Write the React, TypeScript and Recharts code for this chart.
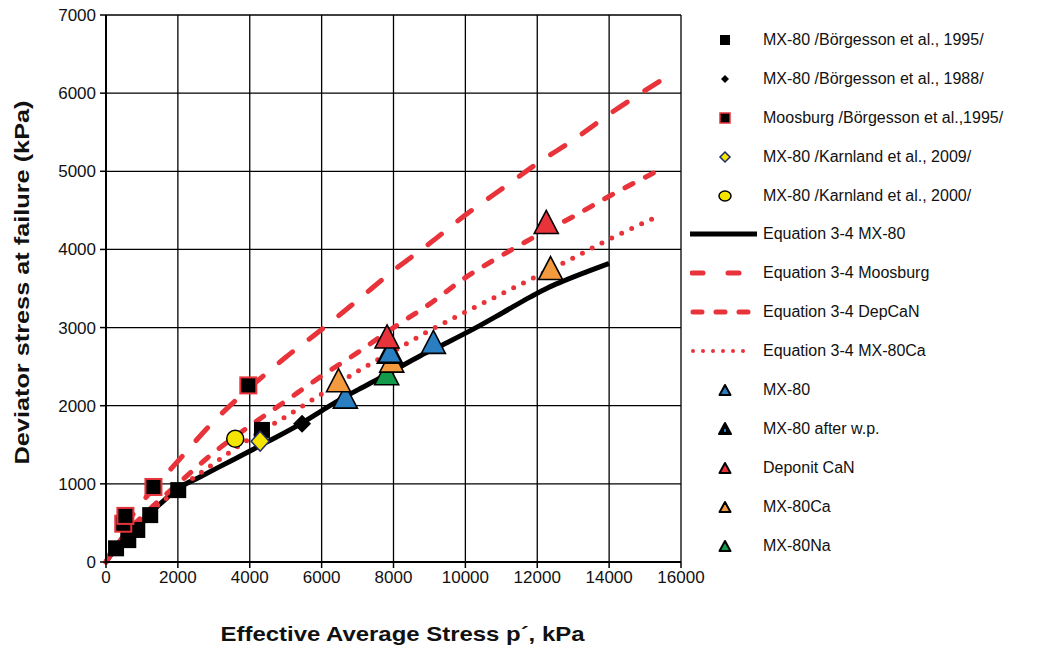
import React from 'react';
import { ComposedChart, Line, Scatter, XAxis, YAxis, CartesianGrid, Legend } from 'recharts';

// axis ticks
const xTicks = [0, 2000, 4000, 6000, 8000, 10000, 12000, 14000, 16000];
const yTicks = [0, 1000, 2000, 3000, 4000, 5000, 6000, 7000];

// Equation 3-4 curves, [p', q]
const eqMx80 = [[0, 0], [250, 170], [500, 320], [1000, 530], [1500, 740], [2000, 940], [2600, 1085], [3500, 1300], [4500, 1540], [5400, 1765], [6000, 1935], [6500, 2075], [7300, 2275], [8000, 2450], [8750, 2640], [9500, 2810], [10400, 3025], [11000, 3180], [11800, 3390], [12300, 3510], [12700, 3590], [13500, 3735], [14000, 3820]];
const eqMoosburg = [[0, 0], [500, 440], [1000, 760], [2000, 1290], [3000, 1800], [4000, 2230], [5000, 2620], [6000, 2975], [7000, 3350], [8000, 3730], [9000, 4075], [10000, 4440], [11000, 4770], [12000, 5100], [13000, 5400], [14000, 5730], [15500, 6180]];
const eqDepCaN = [[0, 0], [500, 340], [1000, 580], [2000, 1000], [3000, 1400], [4000, 1740], [5000, 2060], [6000, 2380], [7000, 2680], [8000, 3000], [9000, 3300], [10000, 3640], [11000, 3920], [12000, 4180], [13000, 4420], [14000, 4680], [15500, 5040]];
const eqMx80Ca = [[0, 0], [500, 320], [1000, 550], [2000, 930], [3000, 1260], [4000, 1580], [5000, 1860], [6000, 2150], [7000, 2440], [8000, 2700], [9000, 2960], [10000, 3200], [11000, 3430], [12000, 3660], [13000, 3890], [14000, 4130], [15300, 4410]];

// measured points
const borg1995 = [[280, 175], [620, 280], [870, 410], [1230, 600], [2010, 920], [4340, 1690]];
const borg1988 = [[5455, 1770]];
const moosburg = [[480, 490], [540, 590], [1320, 960], [3960, 2260]];
const karn2009 = [[4290, 1546]];
const karn2000 = [[3596, 1577]];
const mx80 = [[6660, 2110], [9110, 2810]];
const mx80wp = [[7900, 2690]];
const deponit = [[7820, 2880], [12250, 4345]];
const mx80Ca = [[6470, 2320], [7950, 2570], [12370, 3755]];
const mx80Na = [[7810, 2410]];

const pts = (a: number[][]) => a.map(([x, y]) => ({ x, y }));

const RED = '#e8333a';
const BLUE = '#2a7fc2';
const ORANGE = '#f39a3e';
const GREEN = '#12994a';
const YELLOW = '#f4e500';
const NAVY = '#1f2a6b';

const LONG_DASH = '17 21';
const MED_DASH = '9 14';
const DOTS = '0 11';

const square = (size: number, fill: string, stroke?: string) => (p: any) => (
  <rect x={p.cx - size / 2} y={p.cy - size / 2} width={size} height={size} fill={fill}
    stroke={stroke || 'none'} strokeWidth={stroke ? 2 : 0} />
);
const diamond = (w: number, h: number, fill: string, stroke?: string) => (p: any) => (
  <polygon points={`${p.cx},${p.cy - h / 2} ${p.cx + w / 2},${p.cy} ${p.cx},${p.cy + h / 2} ${p.cx - w / 2},${p.cy}`}
    fill={fill} stroke={stroke || 'none'} strokeWidth={stroke ? 1.5 : 0} />
);
const circle = (r: number, fill: string) => (p: any) => (
  <circle cx={p.cx} cy={p.cy} r={r} fill={fill} stroke="#000" strokeWidth={1.5} />
);
const triangle = (fill: string, sw = 1.6) => (p: any) => (
  <polygon points={`${p.cx},${p.cy - 12} ${p.cx + 12},${p.cy + 11} ${p.cx - 12},${p.cy + 11}`}
    fill={fill} stroke="#000" strokeWidth={sw} strokeLinejoin="miter" />
);

const legendRows = [
  { label: 'MX-80 /Börgesson et al., 1995/', kind: 'sq' },
  { label: 'MX-80 /Börgesson et al., 1988/', kind: 'dia' },
  { label: 'Moosburg /Börgesson et al.,1995/', kind: 'sqRed' },
  { label: 'MX-80 /Karnland et al., 2009/', kind: 'diaY' },
  { label: 'MX-80 /Karnland et al., 2000/', kind: 'circ' },
  { label: 'Equation 3-4 MX-80', kind: 'solid' },
  { label: 'Equation 3-4 Moosburg', kind: 'long' },
  { label: 'Equation 3-4 DepCaN', kind: 'med' },
  { label: 'Equation 3-4 MX-80Ca', kind: 'dot' },
  { label: 'MX-80', kind: BLUE },
  { label: 'MX-80 after w.p.', kind: 'wp' },
  { label: 'Deponit CaN', kind: RED },
  { label: 'MX-80Ca', kind: ORANGE },
  { label: 'MX-80Na', kind: GREEN },
];

const LegendIcon = ({ kind }: { kind: string }) => {
  const c = 35;
  let el: React.ReactNode;
  if (kind === 'sq') el = <rect x={c - 5} y={5} width={10} height={10} fill="#000" />;
  else if (kind === 'sqRed') el = <rect x={c - 5} y={5} width={10} height={10} fill="#000" stroke={RED} strokeWidth={1.5} />;
  else if (kind === 'dia') el = <polygon points={`${c},6 ${c + 4},10 ${c},14 ${c - 4},10`} fill="#000" />;
  else if (kind === 'diaY') el = <polygon points={`${c},5 ${c + 5},10 ${c},15 ${c - 5},10`} fill={YELLOW} stroke={NAVY} strokeWidth={1.5} />;
  else if (kind === 'circ') el = <ellipse cx={c} cy={10} rx={6} ry={5} fill={YELLOW} stroke="#000" strokeWidth={1.5} />;
  else if (kind === 'solid') el = <line x1={0} y1={10} x2={67} y2={10} stroke="#000" strokeWidth={5} />;
  else if (kind === 'long') el = <line x1={2} y1={10} x2={62} y2={10} stroke={RED} strokeWidth={5} strokeLinecap="round" strokeDasharray="11 25" />;
  else if (kind === 'med') el = <line x1={3} y1={10} x2={60} y2={10} stroke={RED} strokeWidth={5} strokeLinecap="round" strokeDasharray="9 14" />;
  else if (kind === 'dot') el = <line x1={3} y1={10} x2={62} y2={10} stroke={RED} strokeWidth={4} strokeLinecap="round" strokeDasharray="0 10" />;
  else if (kind === 'wp') el = (
    <g>
      <polygon points={`${c},4 ${c + 6},15 ${c - 6},15`} fill="#000" stroke="#000" strokeWidth={2} strokeLinejoin="round" />
      <rect x={c - 1} y={10} width={2} height={3} fill={BLUE} />
    </g>
  );
  else el = <polygon points={`${c},5 ${c + 5.5},15 ${c - 5.5},15`} fill={kind} stroke="#000" strokeWidth={2} strokeLinejoin="round" />;
  return <svg width={67} height={20} style={{ display: 'block', flex: 'none' }}>{el}</svg>;
};

const renderLegend = () => (
  <div>
    {legendRows.map((r) => (
      <div key={r.label} style={{ display: 'flex', alignItems: 'center', height: 38.9 }}>
        <LegendIcon kind={r.kind} />
        <span style={{ marginLeft: 6, fontSize: 16, color: '#111', whiteSpace: 'nowrap' }}>{r.label}</span>
      </div>
    ))}
  </div>
);

// axis titles (the source font is a wide bold face, so the text is stretched to its measured length)
const xTitle = (props: any) => {
  const vb = props.viewBox;
  return (
    <text x={vb.x + vb.width / 2 + 9} y={vb.y + vb.height + 49} textAnchor="middle" fontSize={21} fontWeight="bold"
      fill="#111" textLength={364} lengthAdjust="spacingAndGlyphs">Effective Average Stress p´, kPa</text>
  );
};
const yTitle = (props: any) => {
  const vb = props.viewBox;
  const x = vb.x + 3;
  const y = vb.y + vb.height / 2 - 6;
  return (
    <text x={x} y={y} transform={`rotate(-90, ${x}, ${y})`} textAnchor="middle" fontSize={21} fontWeight="bold"
      fill="#111" textLength={364} lengthAdjust="spacingAndGlyphs">Deviator stress at failure (kPa)</text>
  );
};

const tickStyle = { fontSize: 17, fill: '#111' };

export default function App() {
  return (
    <div style={{ position: 'absolute', left: 0, top: 0, width: 1044, height: 647, background: '#fff', fontFamily: '"Liberation Sans", Arial, sans-serif' }}>
      <ComposedChart width={1044} height={647} margin={{ top: 15, right: 363, bottom: 55, left: 26 }}>
        <CartesianGrid stroke="#000" strokeWidth={1.3} horizontalValues={yTicks} verticalValues={xTicks} />
        <XAxis type="number" dataKey="x" domain={[0, 16000]} ticks={xTicks} interval={0} height={30}
          tick={tickStyle} tickSize={6} tickMargin={3} axisLine={{ stroke: '#000', strokeWidth: 2 }} tickLine={{ stroke: '#000', strokeWidth: 1.5 }}
          label={{ content: xTitle, position: 'bottom' }} />
        <YAxis type="number" dataKey="y" domain={[0, 7000]} ticks={yTicks} interval={0} width={80}
          tick={tickStyle} tickSize={6} tickMargin={4} axisLine={{ stroke: '#000', strokeWidth: 2 }} tickLine={{ stroke: '#000', strokeWidth: 1.5 }}
          label={{ content: yTitle, position: 'insideLeft' }} />
        <Legend layout="vertical" align="center" verticalAlign="middle" content={renderLegend}
          wrapperStyle={{ left: 690, top: 20.5, width: 354, height: 560 }} />

        <Line data={pts(eqMx80)} dataKey="y" type="monotone" stroke="#000" strokeWidth={5} dot={false} activeDot={false} isAnimationActive={false} />
        <Line data={pts(eqMoosburg)} dataKey="y" type="monotone" stroke={RED} strokeWidth={5} strokeLinecap="round" strokeDasharray={LONG_DASH} dot={false} activeDot={false} isAnimationActive={false} />
        <Line data={pts(eqDepCaN)} dataKey="y" type="monotone" stroke={RED} strokeWidth={5} strokeLinecap="round" strokeDasharray={MED_DASH} dot={false} activeDot={false} isAnimationActive={false} />
        <Line data={pts(eqMx80Ca)} dataKey="y" type="monotone" stroke={RED} strokeWidth={5} strokeLinecap="round" strokeDasharray={DOTS} dot={false} activeDot={false} isAnimationActive={false} />

        <Scatter data={pts(borg1995)} shape={square(16, '#000')} isAnimationActive={false} />
        <Scatter data={pts(borg1988)} shape={diamond(18, 18, '#000')} isAnimationActive={false} />
        <Scatter data={pts(moosburg)} shape={square(16, '#000', RED)} isAnimationActive={false} />
        <Scatter data={pts(karn2000)} shape={circle(8.5, YELLOW)} isAnimationActive={false} />
        <Scatter data={pts(karn2009)} shape={diamond(18, 20, YELLOW, NAVY)} isAnimationActive={false} />
        <Scatter data={pts(mx80Na)} shape={triangle(GREEN)} isAnimationActive={false} />
        <Scatter data={pts(mx80)} shape={triangle(BLUE)} isAnimationActive={false} />
        <Scatter data={pts(mx80Ca)} shape={triangle(ORANGE)} isAnimationActive={false} />
        <Scatter data={pts(mx80wp)} shape={triangle(BLUE, 2.4)} isAnimationActive={false} />
        <Scatter data={pts(deponit)} shape={triangle(RED)} isAnimationActive={false} />
      </ComposedChart>
    </div>
  );
}
